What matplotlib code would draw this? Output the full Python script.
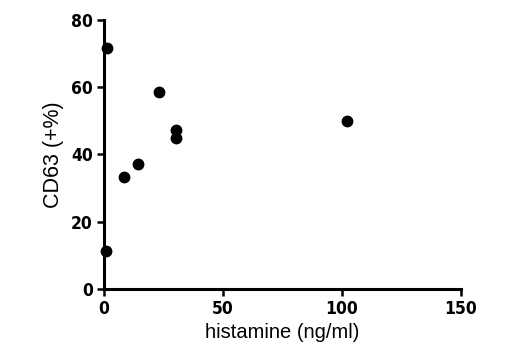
import matplotlib
matplotlib.use('Agg')
import matplotlib.pyplot as plt

# histamine (ng/ml) vs CD63 (+%)
histamine = [1.1, 0.8, 8.4, 14.2, 23.2, 30.2, 30.2, 102.3]
cd63 = [71.8, 11.2, 33.3, 37.3, 58.6, 47.4, 44.9, 49.9]

fig = plt.figure(figsize=(5.19, 3.6), dpi=100)
ax = fig.add_axes([0.2004, 0.198, 0.6873, 0.746])

ax.plot(histamine, cd63, 'o', color='black', markersize=7.5, clip_on=False)

ax.set_xlim(0, 150)
ax.set_ylim(0, 80)
ax.set_xticks([0, 50, 100, 150])
ax.set_yticks([0, 20, 40, 60, 80])

for s in ['top', 'right']:
    ax.spines[s].set_visible(False)
for s in ['left', 'bottom']:
    ax.spines[s].set_linewidth(2.2)

ax.tick_params(direction='out', length=5, width=1.8, pad=3)
for lab in ax.get_xticklabels() + ax.get_yticklabels():
    lab.set_family('DejaVu Sans')
    lab.set_stretch('condensed')
    lab.set_fontweight('bold')
    lab.set_fontsize(12.5)

ax.set_xlabel('histamine (ng/ml)', fontsize=14.5, family='Liberation Sans', labelpad=4)
ax.set_ylabel('CD63 (+%)', fontsize=15.5, family='Liberation Sans', labelpad=5)

fig.savefig('out.png', dpi=100)
